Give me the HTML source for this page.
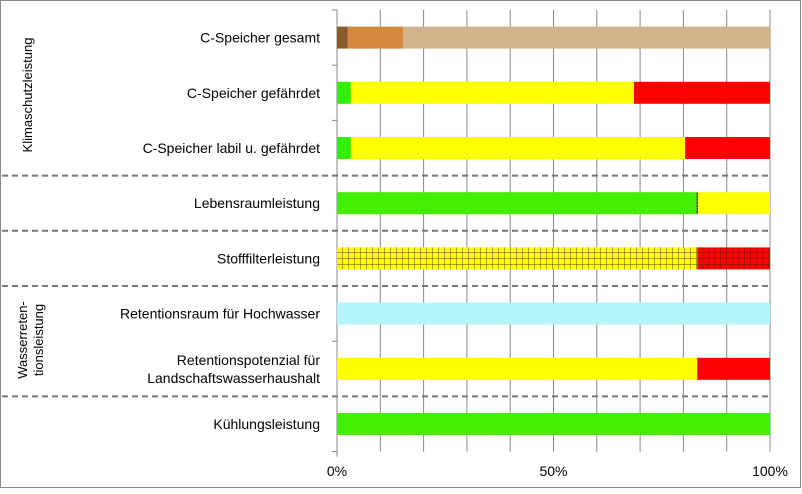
<!DOCTYPE html>
<html><head><meta charset="utf-8"><style>
body{margin:0;background:#fff;}
svg text{font-family:"Liberation Sans",Calibri,sans-serif;font-size:14px;fill:#000;}
</style></head><body>
<svg width="802" height="489">
<defs>
<pattern id="gridY" width="6" height="6" patternUnits="userSpaceOnUse"><rect width="6" height="6" fill="#ffff00"/><path d="M0 0H6M0 0V6" stroke="#5a4a1a" stroke-width="1"/></pattern>
<pattern id="gridR" width="6" height="6" patternUnits="userSpaceOnUse"><rect width="6" height="6" fill="#ff0000"/><path d="M0 0H6M0 0V6" stroke="#6a1a1a" stroke-width="1"/></pattern>
<pattern id="hatch" width="3" height="3" patternUnits="userSpaceOnUse"><rect width="3" height="3" fill="#66aa00"/><path d="M0 3L3 0" stroke="#333" stroke-width="1"/></pattern>
</defs>
<rect x="0.5" y="0.5" width="800" height="487" fill="#fff" stroke="#888"/>
<g id="grid"></g><g id="bars"></g><g id="labels"></g><g id="seps"></g>
<text x="32" y="95" transform="rotate(-90 32 95)" text-anchor="middle" style="font-size:13px">Klimaschutzleistung</text>
<text transform="rotate(-90 27 340)" x="27" y="340" text-anchor="middle" style="font-size:13px"><tspan x="27" dy="0">Wasserreten-</tspan><tspan x="27" dy="16">tionsleistung</tspan></text>
</svg>
<script>
const categories=["C-Speicher gesamt","C-Speicher gefährdet","C-Speicher labil u. gefährdet","Lebensraumleistung","Stofffilterleistung","Retentionsraum für Hochwasser","Retentionspotenzial für|Landschaftswasserhaushalt","Kühlungsleistung"];
const seg1=[2.5,3.2,3.2,83.0,83.2,100,83.2,100];
const seg2=[12.8,65.4,77.2,0.4,16.8,0,16.8,0];
const seg3=[84.7,31.4,19.6,16.6,0,0,0,0];
const tickLabels=["0%","50%","100%"];
const tickValues=[0,50,100];
const separators=[3,4,5,7];
const fills=[["#8a5a2a","#d48840","#d2b48c"],["#33ee00","#ffff00","#ff0000"],["#33ee00","#ffff00","#ff0000"],["#44ee00","url(#hatch)","#ffff00"],["url(#gridY)","url(#gridR)",""],["#b3f5fa","",""],["#ffff00","#ff0000",""],["#44ee00","",""]];
const X0=337,X1=770,T=10,RH=55.2,BH=22;
const xs=v=>X0+(X1-X0)*v/100;
const ry=i=>T+RH*i+RH/2;
const NS="http://www.w3.org/2000/svg";
function mk(t,a,p){const e=document.createElementNS(NS,t);for(const k in a)e.setAttribute(k,a[k]);p.appendChild(e);return e;}
const G=document.getElementById('grid'),B=document.getElementById('bars'),L=document.getElementById('labels'),S=document.getElementById('seps');
for(let v=10;v<=100;v+=10){const l=mk('line',{x1:xs(v),x2:xs(v),y1:T,y2:T+RH*8,stroke:'#888','stroke-width':1},G);

}
const ax=mk('line',{x1:X0,x2:X0,y1:T,y2:T+RH*8+5,stroke:'#888'},G);


for(let i=0;i<=8;i++){const t=mk('line',{x1:X0-5,x2:X0,y1:T+RH*i,y2:T+RH*i,stroke:'#888'},G);

}
tickValues.forEach((v,i)=>{const t=mk('text',{x:xs(v),y:476,'text-anchor':'middle'},L);t.textContent=tickLabels[i];

});
categories.forEach((c,i)=>{
 const vals=[seg1[i],seg2[i],seg3[i]];let acc=0;
 vals.forEach((v,j)=>{if(v<=0)return;const r=mk('rect',{x:xs(acc),y:ry(i)-BH/2,width:xs(acc+v)-xs(acc),height:BH,fill:fills[i][j]},B);
 
 acc+=v;});
 const parts=c.split('|');
 const t=mk('text',{x:320,y:ry(i)+5-(parts.length-1)*9,'text-anchor':'end'},L);
 
 
 parts.forEach((p,k)=>{const ts=mk('tspan',{x:320,dy:k?18:0},t);ts.textContent=p;});
});
separators.forEach(s=>{const l=mk('line',{x1:2,x2:768,y1:T+RH*s,y2:T+RH*s,stroke:'#777','stroke-width':2,'stroke-dasharray':'6,4'},S);

});
</script>
</body></html>
